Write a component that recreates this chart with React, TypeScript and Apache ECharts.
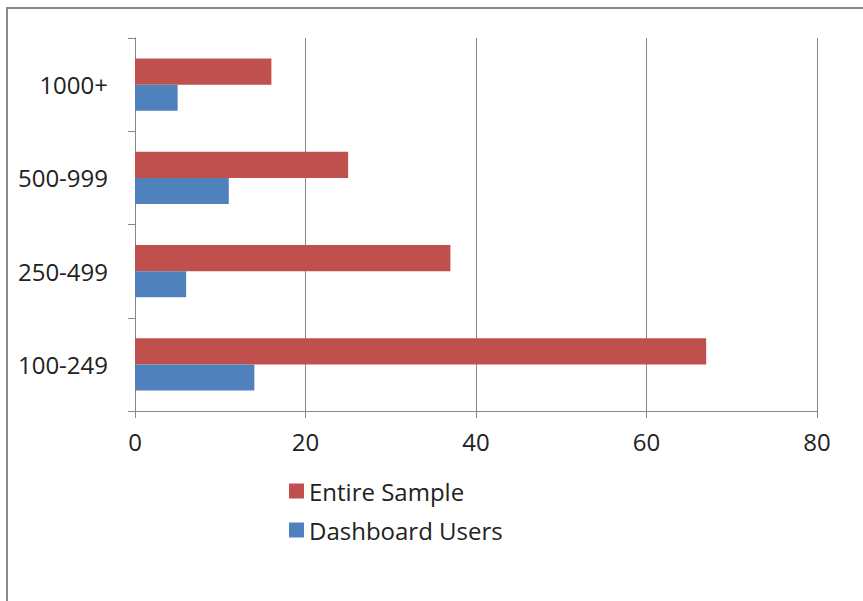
import React, { useEffect, useRef } from "react";
import * as echarts from "echarts";

const categories = ["100-249", "250-499", "500-999", "1000+"];
const entireSample = [67, 37, 25, 16];
const dashboardUsers = [14, 6, 11, 5];
const xTicks = [0, 20, 40, 60, 80];

const FONT = "'Open Sans', sans-serif";

export default function App() {
  const ref = useRef<HTMLDivElement>(null);
  useEffect(() => {
    document.body.style.margin = "0";
    const chart = echarts.init(ref.current!, null, { renderer: "svg" });
    chart.setOption({
      animation: false,
      backgroundColor: "#ffffff",
      textStyle: { fontFamily: FONT },
      graphic: [
        { type: "line", shape: { x1: 7, y1: 7, x2: 7, y2: 601 }, style: { stroke: "#8a8a8a", lineWidth: 2 } },
        { type: "line", shape: { x1: 6, y1: 8, x2: 863, y2: 8 }, style: { stroke: "#8a8a8a", lineWidth: 2 } },
      ],
      grid: { left: 135, right: 46, top: 38, bottom: 190, containLabel: false },
      legend: {
        orient: "vertical",
        left: 284,
        top: 474,
        itemWidth: 15,
        itemHeight: 15,
        itemGap: 15,
        icon: "rect",
        data: ["Entire Sample", "Dashboard Users"],
        textStyle: { fontSize: 24, color: "#222", fontFamily: FONT },
      },
      xAxis: {
        type: "value",
        min: xTicks[0],
        max: xTicks[xTicks.length - 1],
        interval: 20,
        axisLine: { show: true, lineStyle: { color: "#868686" } },
        axisTick: { show: true, length: 7, lineStyle: { color: "#868686" } },
        axisLabel: { fontSize: 24, color: "#222", margin: 18, fontFamily: FONT },
        splitLine: { show: true, lineStyle: { color: "#868686", width: 1 } },
      },
      yAxis: {
        type: "category",
        data: categories,
        axisLine: { show: true, onZero: false, lineStyle: { color: "#868686" } },
        axisTick: { show: true, length: 7, inside: false, lineStyle: { color: "#868686" } },
        axisLabel: { fontSize: 24, color: "#222", margin: 27, fontFamily: FONT },
      },
      series: [
        {
          name: "Entire Sample",
          type: "bar",
          data: entireSample,
          itemStyle: { color: "#C0504D" },
          barGap: "0%",
          barCategoryGap: "44%",
        },
        {
          name: "Dashboard Users",
          type: "bar",
          data: dashboardUsers,
          itemStyle: { color: "#4F81BD" },
          barGap: "0%",
          barCategoryGap: "44%",
        },
      ],
    });
    return () => chart.dispose();
  }, []);
  return <div ref={ref} style={{ width: 863, height: 601 }} />;
}
